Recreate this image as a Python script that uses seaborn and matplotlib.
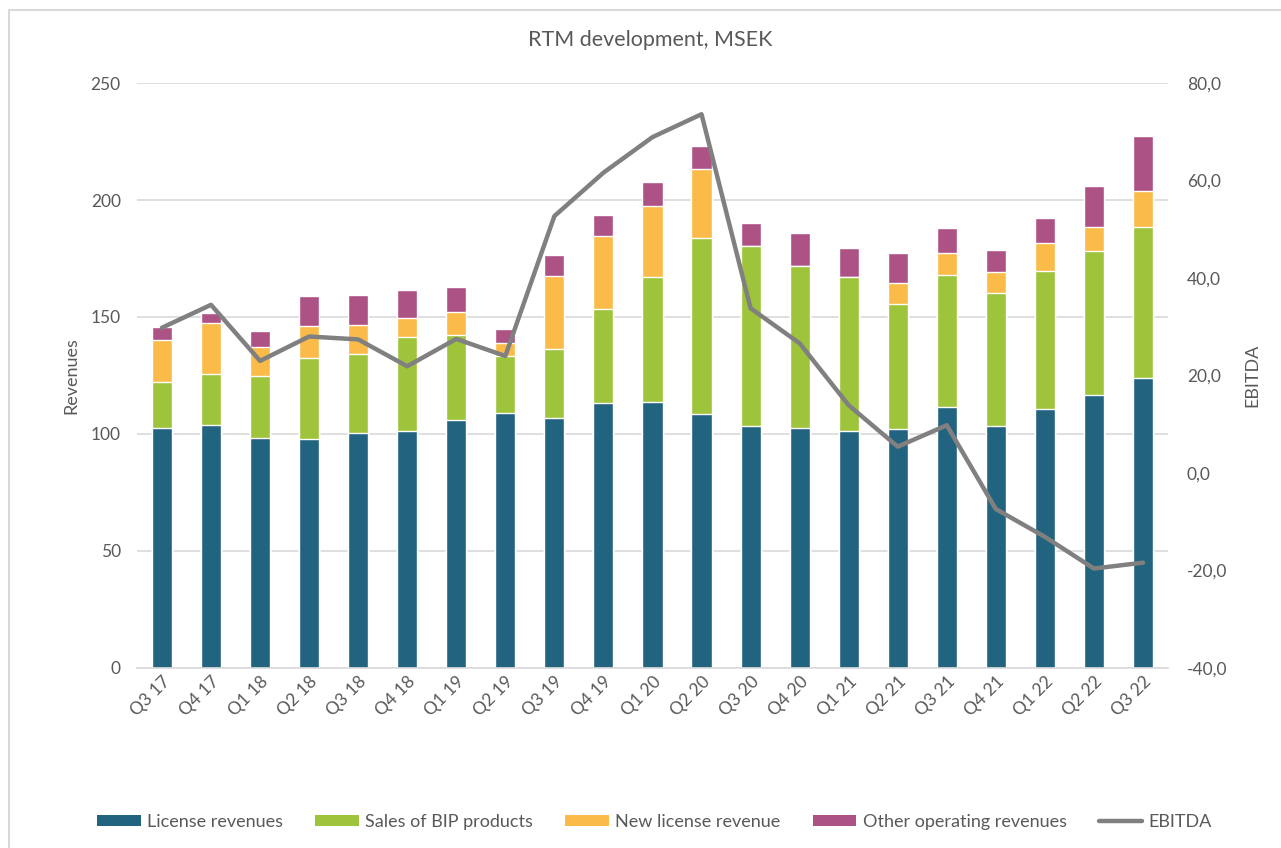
"""RTM development, MSEK - stacked revenues with EBITDA on a secondary axis."""

import matplotlib.pyplot as plt
import numpy as np
import pandas as pd
import seaborn as sns
from matplotlib.lines import Line2D
from matplotlib.patches import Patch, Rectangle
from matplotlib.ticker import FuncFormatter, MultipleLocator

# ---------------------------------------------------------------------------
# Data (MSEK)
# ---------------------------------------------------------------------------
quarters = ["Q3 17", "Q4 17", "Q1 18", "Q2 18", "Q3 18", "Q4 18", "Q1 19",
            "Q2 19", "Q3 19", "Q4 19", "Q1 20", "Q2 20", "Q3 20", "Q4 20",
            "Q1 21", "Q2 21", "Q3 21", "Q4 21", "Q1 22", "Q2 22", "Q3 22"]
license_rev = [102.6, 103.8, 98.4, 97.9, 100.6, 101.1, 106.1, 108.8, 106.7,
               113.1, 113.8, 108.4, 103.4, 102.4, 101.1, 102.0, 111.5, 103.4,
               110.7, 116.5, 123.8]
bip_sales = [19.8, 21.7, 26.3, 34.4, 33.7, 40.4, 36.2, 24.5, 29.5, 40.3,
             53.2, 75.2, 77.1, 69.5, 66.1, 53.6, 56.3, 56.7, 58.8, 61.7, 64.8]
new_license = [17.8, 22.1, 12.6, 13.7, 12.1, 8.2, 9.7, 5.7, 31.3, 31.2, 30.3,
               29.6, 0.0, 0.0, 0.0, 8.8, 9.6, 9.0, 12.0, 10.4, 15.4]
other_rev = [5.4, 4.2, 6.9, 12.8, 12.9, 11.7, 11.0, 5.7, 9.0, 9.0, 10.5, 9.9,
             9.5, 14.1, 12.4, 12.8, 10.8, 9.5, 10.7, 17.4, 23.4]
ebitda = [29.8, 34.5, 23.0, 28.0, 27.4, 21.9, 27.5, 24.0, 52.7, 61.6, 68.9,
          73.6, 33.8, 26.6, 13.9, 5.4, 9.8, -7.4, -13.1, -19.6, -18.4]

series_names = ["License revenues", "Sales of BIP products",
                "New license revenue", "Other operating revenues"]
series_colors = ["#22647f", "#9dc43a", "#fbbb49", "#ad5285"]
line_color = "#808080"
text_color = "#595959"
grid_color = "#d9d9d9"

sns.set_theme(style="white")
plt.rcParams["font.family"] = ["Lato", "DejaVu Sans"]

df = pd.DataFrame({
    "quarter": quarters,
    series_names[0]: license_rev,
    series_names[1]: bip_sales,
    series_names[2]: new_license,
    series_names[3]: other_rev,
})
stacked = df[series_names].cumsum(axis=1)
stacked["quarter"] = quarters

# ---------------------------------------------------------------------------
# Figure
# ---------------------------------------------------------------------------
fig = plt.figure(figsize=(12.81, 8.48), dpi=100)
ax = fig.add_axes([0.1073, 0.2123, 0.8041, 0.6898])

# stacked bars: draw cumulative totals from the top layer down
for name, color in reversed(list(zip(series_names, series_colors))):
    sns.barplot(data=stacked, x="quarter", y=name, color=color,
                width=0.41, saturation=1, ax=ax, zorder=2)

ax.set_xlim(-0.5, len(quarters) - 0.5)
ax.set_ylim(0, 250)
ax.yaxis.set_major_locator(MultipleLocator(50))
ax.grid(axis="y", color=grid_color, linewidth=1.2, zorder=0)
ax.grid(axis="x", visible=False)
ax.set_axisbelow(True)
for side in ["top", "right", "left"]:
    ax.spines[side].set_visible(False)
ax.spines["bottom"].set_color(grid_color)
ax.spines["bottom"].set_linewidth(1.2)
ax.tick_params(axis="both", length=0, colors=text_color, labelsize=12.5)
ax.tick_params(axis="y", pad=12)
ax.tick_params(axis="x", pad=4)
plt.setp(ax.get_xticklabels(), rotation=45, ha="right",
         rotation_mode="anchor")
ax.set_xlabel("")
ax.set_ylabel("Revenues", color=text_color, fontsize=13, labelpad=8)

# EBITDA on secondary axis
ax2 = ax.twinx()
sns.lineplot(x=np.arange(len(quarters)), y=ebitda, color=line_color,
             linewidth=3.2, ax=ax2, zorder=3)
ax2.set_ylim(-40, 80)
ax2.yaxis.set_major_locator(MultipleLocator(20))
ax2.yaxis.set_major_formatter(
    FuncFormatter(lambda v, _: f"{v:.1f}".replace(".", ",")))
ax2.grid(False)
for side in ["top", "right", "left", "bottom"]:
    ax2.spines[side].set_visible(False)
ax2.tick_params(axis="y", length=0, colors=text_color, labelsize=12.5, pad=14)
ax2.set_ylabel("EBITDA", color=text_color, fontsize=13, labelpad=12)

fig.suptitle("RTM development, MSEK", x=0.508, y=0.965, fontsize=15.5,
             color=text_color)

# legend
handles = [Patch(facecolor=c, edgecolor="none") for c in series_colors]
handles.append(Line2D([0], [0], color=line_color, linewidth=3.2))
fig.legend(handles, series_names + ["EBITDA"], loc="center",
           bbox_to_anchor=(0.511, 0.031), ncol=5, frameon=False,
           fontsize=13, labelcolor=text_color, handlelength=2.4,
           handleheight=0.6, handletextpad=0.35, columnspacing=1.8)

# chart area border
fig.patches.append(Rectangle((9 / 1281, -0.05), 1.1, 1.05 - 10 / 848,
                             transform=fig.transFigure, fill=False,
                             edgecolor=grid_color, linewidth=1.5))

fig.savefig("out.png", dpi=100)
